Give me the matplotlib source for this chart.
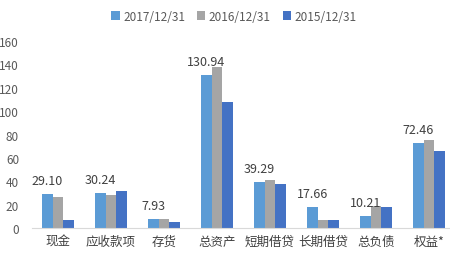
import numpy as np
import matplotlib.pyplot as plt

plt.rcParams['font.family'] = ['Noto Sans CJK SC', 'DejaVu Sans']

categories = ['现金', '应收款项', '存货', '总资产', '短期借贷', '长期借贷', '总负债', '权益*']
series_names = ['2017/12/31', '2016/12/31', '2015/12/31']
v2017 = [29.10, 30.24, 7.93, 130.94, 39.29, 17.66, 10.21, 72.46]
v2016 = [26.7, 28.5, 7.8, 137.6, 41.0, 6.8, 18.8, 75.5]
v2015 = [6.8, 31.6, 5.1, 108.0, 37.6, 6.8, 18.2, 66.0]
colors = ['#5B9BD5', '#A5A5A5', '#4472C4']

fig = plt.figure(figsize=(4.5, 2.55), dpi=100)
ax = fig.add_axes([0.07, 0.102, 0.93, 0.733])

x = np.arange(len(categories))
w = 0.2
for i, (vals, name, c) in enumerate(zip([v2017, v2016, v2015], series_names, colors)):
    ax.bar(x + (i - 1) * w, vals, width=w, color=c, label=name)

# labels only on 2017 series
for xi, v in zip(x, v2017):
    ax.annotate(f"{v:.2f}", xy=(xi - w, v), xytext=(0, 5), textcoords='offset points',
                ha='center', va='bottom', fontsize=9, color='#404040')

ax.set_xlim(-0.5, 7.4)
ax.set_ylim(0, 160)
ax.set_yticks(np.arange(0, 161, 20))
ax.set_xticks(x)
ax.set_xticklabels(categories, fontsize=9, color='#404040')
ax.tick_params(axis='y', length=0, pad=9, labelsize=8.5, labelcolor='#595959')
ax.tick_params(axis='x', length=0, pad=5)
for s in ['top', 'right', 'left']:
    ax.spines[s].set_visible(False)
ax.spines['bottom'].set_color('#D9D9D9')

fig.legend(loc='upper center', bbox_to_anchor=(0.52, 1.0), ncol=3, frameon=False,
           fontsize=8.5, handlelength=0.7, handleheight=0.7, handletextpad=0.3,
           columnspacing=1.0, labelcolor='#595959')

fig.savefig('out.png', dpi=100)
